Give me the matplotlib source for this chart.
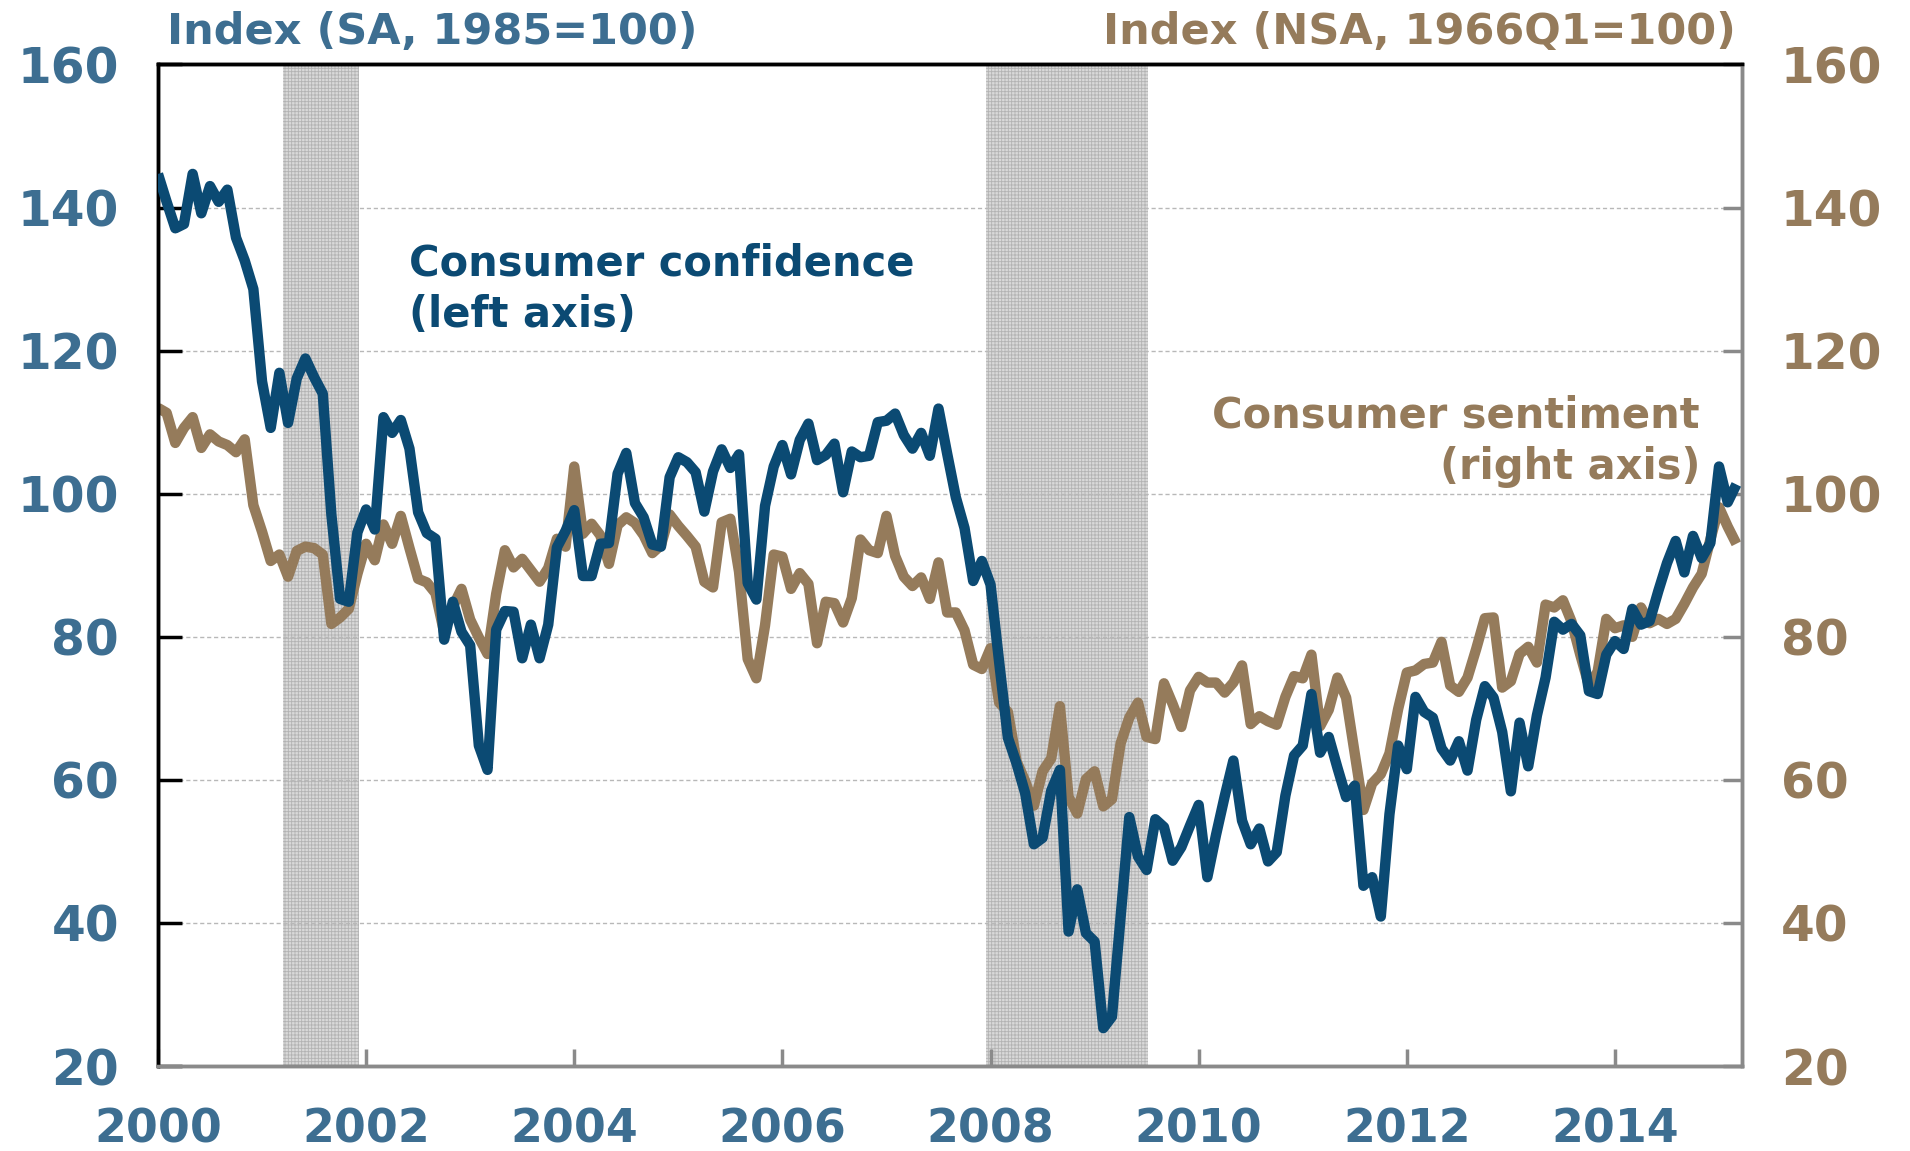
import matplotlib
matplotlib.use("Agg")
import matplotlib.pyplot as plt
import numpy as np

# ---- data (monthly, Jan 2000 - Mar 2015) ----
start_year = 2000
confidence = [
    144.7, 140.8, 137.1, 137.7, 144.7, 139.2, 143.0, 140.8, 142.5, 135.8, 132.6, 128.6,  # 2000
    115.7, 109.2, 116.9, 109.9, 116.1, 118.9, 116.3, 114.0, 97.0, 85.3, 84.9, 94.6,       # 2001
    97.8, 95.0, 110.7, 108.5, 110.3, 106.3, 97.4, 94.5, 93.7, 79.6, 84.9, 80.7,           # 2002
    78.8, 64.8, 61.4, 81.0, 83.6, 83.5, 77.0, 81.7, 77.0, 81.7, 92.5, 94.8,               # 2003
    97.7, 88.5, 88.5, 93.0, 93.1, 102.8, 105.7, 98.7, 96.7, 92.9, 92.6, 102.3,            # 2004
    105.1, 104.4, 103.0, 97.5, 103.1, 106.2, 103.6, 105.5, 87.5, 85.2, 98.3, 103.8,       # 2005
    106.8, 102.7, 107.5, 109.8, 104.7, 105.4, 107.0, 100.2, 105.9, 105.1, 105.3, 110.0,   # 2006
    110.2, 111.2, 108.2, 106.3, 108.5, 105.3, 111.9, 105.6, 99.5, 95.2, 87.8, 90.6,       # 2007
    87.3, 76.4, 65.9, 62.3, 58.1, 51.0, 51.9, 58.5, 61.4, 38.8, 44.7, 38.6,               # 2008
    37.4, 25.3, 26.9, 40.8, 54.8, 49.3, 47.4, 54.5, 53.4, 48.7, 50.6, 53.6,               # 2009
    56.5, 46.4, 52.3, 57.7, 62.7, 54.3, 51.0, 53.2, 48.6, 49.9, 57.8, 63.4,               # 2010
    64.8, 72.0, 63.8, 66.0, 61.7, 57.6, 59.2, 45.2, 46.4, 40.9, 55.2, 64.8,               # 2011
    61.5, 71.6, 69.5, 68.7, 64.4, 62.7, 65.4, 61.3, 68.4, 73.1, 71.5, 66.7,               # 2012
    58.4, 68.0, 61.9, 69.0, 74.3, 82.1, 81.0, 81.8, 80.2, 72.4, 72.0, 77.5,               # 2013
    79.4, 78.3, 83.9, 81.7, 82.2, 86.4, 90.3, 93.4, 89.0, 94.1, 91.0, 93.1,               # 2014
    103.8, 98.8, 101.3,                                                                   # 2015
]
sentiment = [
    112.0, 111.3, 107.1, 109.2, 110.7, 106.4, 108.3, 107.3, 106.8, 105.8, 107.6, 98.4,    # 2000
    94.7, 90.6, 91.5, 88.4, 92.0, 92.6, 92.4, 91.5, 81.8, 82.7, 83.9, 88.8,               # 2001
    93.0, 90.7, 95.7, 93.0, 96.9, 92.4, 88.1, 87.6, 86.1, 80.6, 84.2, 86.7,               # 2002
    82.4, 79.9, 77.6, 86.0, 92.1, 89.7, 90.9, 89.3, 87.7, 89.6, 93.7, 92.6,               # 2003
    103.8, 94.4, 95.8, 94.2, 90.2, 95.6, 96.7, 95.9, 94.2, 91.7, 92.8, 97.1,              # 2004
    95.5, 94.1, 92.6, 87.7, 86.9, 96.0, 96.5, 89.1, 76.9, 74.2, 81.6, 91.5,               # 2005
    91.2, 86.7, 88.9, 87.4, 79.1, 84.9, 84.7, 82.0, 85.4, 93.6, 92.1, 91.7,               # 2006
    96.9, 91.3, 88.4, 87.1, 88.3, 85.3, 90.4, 83.4, 83.4, 80.9, 76.1, 75.5,               # 2007
    78.4, 70.8, 69.5, 62.6, 59.8, 56.4, 61.2, 63.0, 70.3, 57.6, 55.3, 60.1,               # 2008
    61.2, 56.3, 57.3, 65.1, 68.7, 70.8, 66.0, 65.7, 73.5, 70.6, 67.4, 72.5,               # 2009
    74.4, 73.6, 73.6, 72.2, 73.6, 76.0, 67.8, 68.9, 68.2, 67.7, 71.6, 74.5,               # 2010
    74.2, 77.5, 67.5, 69.8, 74.3, 71.5, 63.7, 55.8, 59.5, 60.8, 63.7, 69.9,               # 2011
    75.0, 75.3, 76.2, 76.4, 79.3, 73.2, 72.3, 74.3, 78.3, 82.6, 82.7, 72.9,               # 2012
    73.8, 77.6, 78.6, 76.4, 84.5, 84.1, 85.1, 82.1, 77.5, 73.2, 75.1, 82.5,               # 2013
    81.2, 81.6, 80.0, 84.1, 81.9, 82.5, 81.8, 82.5, 84.6, 86.9, 88.8, 93.6,               # 2014
    98.1, 95.4, 93.0,                                                                     # 2015
]
recession_start = [2001.2, 2007.96]
recession_end = [2001.93, 2009.51]
x_ticks = [2000, 2002, 2004, 2006, 2008, 2010, 2012, 2014]
y_ticks = [20, 40, 60, 80, 100, 120, 140, 160]

BLUE_LINE = "#0b4a73"
BLUE_TXT = "#3d6e91"
BROWN = "#957b5b"

months = np.arange(len(confidence))
x = start_year + months / 12.0

plt.rcParams['font.family'] = ['DejaVu Sans']
plt.rcParams['hatch.linewidth'] = 0.6

fig = plt.figure(figsize=(19.10, 11.51), dpi=100)
ax = fig.add_axes([0.0827, 0.0738, 0.8293, 0.8702])
ax2 = ax.twinx()

# recession shading and grid on the lower (right-axis) layer
for s, e in zip(recession_start, recession_end):
    ax2.axvspan(s, e, facecolor="#d9d9d9", edgecolor="#b3b3b3", hatch="+++++",
                linewidth=0, zorder=0.5)
for v in y_ticks[1:-1]:
    ax2.axhline(v, color="#b8b8b8", lw=1.0, ls=(0, (3, 2)), zorder=0.8)

ax2.plot(x, sentiment, color=BROWN, lw=7.5, solid_joinstyle="round",
         solid_capstyle="butt", zorder=2)
ax.plot(x, confidence, color=BLUE_LINE, lw=7.5, solid_joinstyle="round",
        solid_capstyle="butt", zorder=3)
ax.set_zorder(ax2.get_zorder() + 1)
ax.patch.set_visible(False)

for a in (ax, ax2):
    a.set_ylim(20, 160)
    a.set_xlim(2000, 2015.22)
    a.set_yticks(y_ticks)

ax.set_xticks(x_ticks)
ax.set_xticklabels([str(t) for t in x_ticks])

ax.tick_params(axis='y', direction='in', length=17, width=2.5, color='black',
               labelsize=35, labelcolor=BLUE_TXT, pad=28)
ax.tick_params(axis='x', direction='in', length=12, width=2.5, color='#8a8a8a',
               labelsize=33, labelcolor=BLUE_TXT, pad=30)
ax2.tick_params(axis='y', direction='in', length=14, width=2.5, color='#8a8a8a',
                labelsize=35, labelcolor=BROWN, pad=28)
for lab in ax.get_yticklabels() + ax.get_xticklabels() + ax2.get_yticklabels():
    lab.set_fontweight('bold')

for a in (ax, ax2):
    a.spines['top'].set_color('black')
    a.spines['top'].set_linewidth(2.5)
    a.spines['left'].set_color('black')
    a.spines['left'].set_linewidth(2.5)
    a.spines['right'].set_color('#8a8a8a')
    a.spines['right'].set_linewidth(2.5)
    a.spines['bottom'].set_color('#8a8a8a')
    a.spines['bottom'].set_linewidth(2.5)

# headers
fig.text(167 / 1910, 1 - 32 / 1151, "Index (SA, 1985=100)", color=BLUE_TXT,
         fontsize=31, fontweight='bold', ha='left', va='center')
fig.text(1736 / 1910, 1 - 32 / 1151, "Index (NSA, 1966Q1=100)", color=BROWN,
         fontsize=31, fontweight='bold', ha='right', va='center')

# annotations
fig.text(409 / 1910, 1 - 289 / 1151, "Consumer confidence\n(left axis)", color=BLUE_LINE,
         fontsize=30, fontweight='bold', ha='left', va='center', linespacing=1.3)
fig.text(1700 / 1910, 1 - 441 / 1151, "Consumer sentiment\n(right axis)", color=BROWN,
         fontsize=30, fontweight='bold', ha='right', va='center', linespacing=1.3,
         multialignment='right')

fig.savefig("out.png", dpi=100)
